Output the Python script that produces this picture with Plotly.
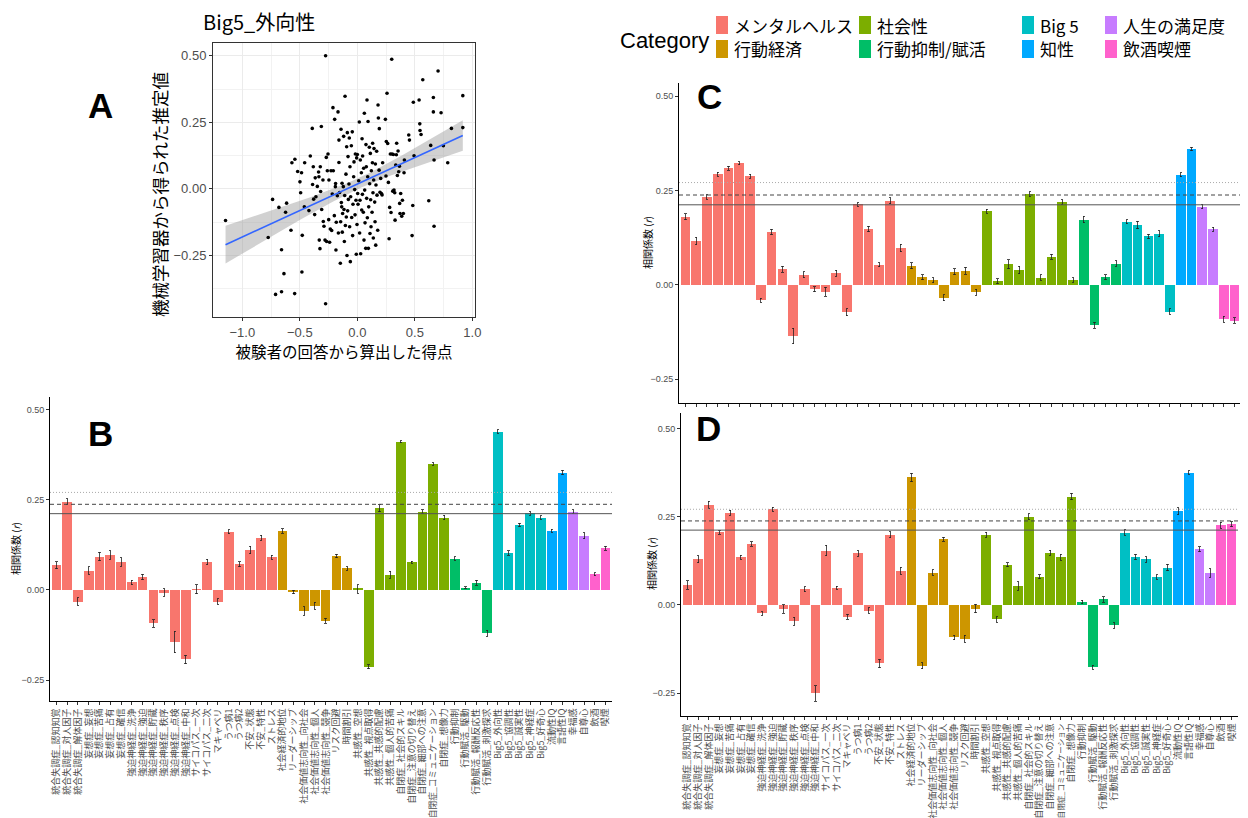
import numpy as np
import plotly.graph_objects as go

# ---------------- data ----------------
categories = [
    "統合失調症_認知知覚", "統合失調症_対人因子", "統合失調症_解体因子",
    "妄想症_妄想", "妄想症_苦痛", "妄想症_占有", "妄想症_確信",
    "強迫神経症_洗浄", "強迫神経症_強迫", "強迫神経症_貯蔵", "強迫神経症_秩序",
    "強迫神経症_点検", "強迫神経症_中和", "サイコパス_一次", "サイコパス_二次",
    "マキャベリ", "うつ病1", "うつ病2", "不安_状態", "不安_特性", "ストレス",
    "社会経済的地位", "リーダーシップ", "社会価値志向性_向社会", "社会価値志向性_個人",
    "社会価値志向性_競争", "リスク回避", "時間割引",
    "共感性_空想", "共感性_視点取得", "共感性_共感的配慮", "共感性_個人的苦痛",
    "自閉症_社会的スキル", "自閉症_注意の切り替え", "自閉症_細部への注意",
    "自閉症_コミュニケーション", "自閉症_想像力",
    "行動抑制", "行動賦活_駆動", "行動賦活_報酬反応性", "行動賦活_刺激探求",
    "Big5_外向性", "Big5_協調性", "Big5_誠実性", "Big5_神経症", "Big5_好奇心",
    "流動性IQ", "言語性IQ", "幸福感", "自尊心", "飲酒", "喫煙",
]
group_names = ["メンタルヘルス", "行動経済", "社会性", "行動抑制/賦活",
               "Big 5", "知性", "人生の満足度", "飲酒喫煙"]
group_counts = [21, 7, 9, 4, 5, 2, 2, 2]
group_colors = ["#F8766D", "#CD9600", "#7CAE00", "#00BE67",
                "#00BFC4", "#00A9FF", "#C77CFF", "#FF61CC"]

values_B = [0.069, 0.245, -0.032, 0.054, 0.093, 0.097, 0.078, 0.021, 0.036, -0.093,
            -0.007, -0.144, -0.193, 0.002, 0.078, -0.032, 0.162, 0.072, 0.111, 0.145,
            0.091, 0.164, -0.006, -0.058, -0.044, -0.086, 0.094, 0.060, 0.003, -0.213,
            0.227, 0.042, 0.412, 0.077, 0.218, 0.350, 0.201, 0.087, 0.006, 0.020,
            -0.120, 0.440, 0.103, 0.181, 0.213, 0.201, 0.165, 0.326, 0.218, 0.151,
            0.044, 0.116]
err_B = [0.010, 0.008, 0.010, 0.010, 0.012, 0.012, 0.012, 0.006, 0.008, 0.010,
         0.010, 0.030, 0.012, 0.012, 0.008, 0.007, 0.006, 0.007, 0.010, 0.007,
         0.006, 0.006, 0.005, 0.012, 0.010, 0.007, 0.005, 0.005, 0.012, 0.006,
         0.010, 0.010, 0.003, 0.003, 0.005, 0.004, 0.006, 0.005, 0.003, 0.007,
         0.008, 0.005, 0.006, 0.005, 0.005, 0.005, 0.004, 0.006, 0.005, 0.008,
         0.004, 0.006]

values_C = [0.180, 0.116, 0.233, 0.293, 0.309, 0.322, 0.288, -0.041, 0.140, 0.041,
            -0.136, 0.027, -0.012, -0.018, 0.031, -0.073, 0.213, 0.148, 0.053, 0.223,
            0.098, 0.050, 0.020, 0.012, -0.034, 0.035, 0.037, -0.020, 0.195, 0.009,
            0.054, 0.039, 0.240, 0.019, 0.074, 0.219, 0.012, 0.173, -0.107, 0.020,
            0.056, 0.167, 0.159, 0.128, 0.135, -0.071, 0.292, 0.360, 0.207, 0.147,
            -0.092, -0.095]
err_C = [0.008, 0.010, 0.006, 0.005, 0.005, 0.004, 0.005, 0.005, 0.007, 0.008,
         0.020, 0.008, 0.007, 0.012, 0.008, 0.009, 0.005, 0.007, 0.005, 0.008,
         0.010, 0.008, 0.007, 0.007, 0.008, 0.008, 0.009, 0.008, 0.005, 0.007,
         0.012, 0.010, 0.006, 0.007, 0.007, 0.007, 0.006, 0.009, 0.008, 0.007,
         0.007, 0.005, 0.010, 0.006, 0.008, 0.007, 0.005, 0.004, 0.006, 0.005,
         0.008, 0.007]

values_D = [0.056, 0.129, 0.284, 0.206, 0.261, 0.135, 0.173, -0.024, 0.271, -0.012,
            -0.046, 0.044, -0.250, 0.154, 0.049, -0.033, 0.146, -0.016, -0.165, 0.199,
            0.097, 0.361, -0.172, 0.092, 0.186, -0.092, -0.095, -0.010, 0.199, -0.041,
            0.114, 0.054, 0.250, 0.080, 0.148, 0.135, 0.307, 0.008, -0.176, 0.016,
            -0.058, 0.205, 0.136, 0.129, 0.079, 0.106, 0.266, 0.375, 0.158, 0.091,
            0.226, 0.229]
err_D = [0.012, 0.010, 0.010, 0.006, 0.007, 0.006, 0.006, 0.005, 0.006, 0.012,
         0.012, 0.007, 0.022, 0.015, 0.004, 0.007, 0.008, 0.008, 0.012, 0.008,
         0.010, 0.012, 0.008, 0.008, 0.006, 0.006, 0.010, 0.012, 0.007, 0.008,
         0.006, 0.012, 0.008, 0.006, 0.007, 0.008, 0.009, 0.005, 0.006, 0.008,
         0.008, 0.008, 0.008, 0.008, 0.006, 0.009, 0.010, 0.005, 0.007, 0.012,
         0.008, 0.007]

thresholds = [0.212, 0.238, 0.271]   # solid, dashed, dotted

scatter_x = [-1.146, -0.775, -0.737, -0.711, -0.682, -0.659, -0.638, -0.659, -0.624, -0.615,
             -0.577, -0.569, -0.543, -0.545, -0.519, -0.499, -0.493, -0.485, -0.482, -0.479,
             -0.458, -0.461, -0.421, -0.409, -0.392, -0.389, -0.383, -0.380, -0.371, -0.366,
             -0.360, -0.348, -0.337, -0.334, -0.331, -0.325, -0.322, -0.319, -0.313, -0.310,
             -0.299, -0.296, -0.290, -0.281, -0.276, -0.276, -0.270, -0.267, -0.261, -0.255,
             -0.249, -0.247, -0.241, -0.235, -0.229, -0.223, -0.218, -0.212, -0.209, -0.200,
             -0.197, -0.191, -0.189, -0.186, -0.183, -0.174, -0.168, -0.165, -0.160, -0.160,
             -0.154, -0.148, -0.145, -0.142, -0.139, -0.136, -0.133, -0.131, -0.128, -0.122,
             -0.119, -0.116, -0.113, -0.110, -0.107, -0.104, -0.099, -0.096, -0.093, -0.090,
             -0.087, -0.084, -0.081, -0.078, -0.073, -0.070, -0.067, -0.064, -0.061, -0.058,
             -0.052, -0.049, -0.044, -0.041, -0.038, -0.032, -0.029, -0.023, -0.020, -0.017,
             -0.012, -0.009, -0.006, -0.003, 0.000, 0.003, 0.006, 0.012, 0.017, 0.020,
             0.023, 0.026, 0.029, 0.035, 0.038, 0.041, 0.044, 0.046, 0.052, 0.055,
             0.058, 0.061, 0.064, 0.067, 0.073, 0.075, 0.078, 0.081, 0.084, 0.087,
             0.090, 0.093, 0.096, 0.099, 0.104, 0.107, 0.110, 0.113, 0.116, 0.119,
             0.122, 0.128, 0.131, 0.133, 0.136, 0.139, 0.142, 0.145, 0.151, 0.154,
             0.157, 0.160, 0.162, 0.168, 0.171, 0.177, 0.180, 0.183, 0.189, 0.191,
             0.197, 0.203, 0.209, 0.215, 0.220, 0.244, 0.249, 0.252, 0.258, 0.264,
             0.270, 0.276, 0.281, 0.287, 0.293, 0.299, 0.302, 0.308, 0.313, 0.319,
             0.325, 0.328, 0.334, 0.339, 0.342, 0.348, 0.354, 0.360, 0.366, 0.368,
             0.371, 0.377, 0.386, 0.392, 0.400, 0.406, 0.409, 0.447, 0.453, 0.476,
             0.482, 0.487, 0.493, 0.537, 0.543, 0.545, 0.554, 0.569, 0.621, 0.638,
             0.661, 0.661, 0.667, 0.667, 0.702, 0.728, 0.748, 0.786, 0.818, 0.917,
             0.917]
scatter_y = [-0.119, -0.183, -0.040, -0.397, -0.070, -0.387, -0.319, -0.229, -0.088, -0.054,
             -0.156, 0.098, 0.111, -0.394, 0.065, 0.026, -0.015, 0.060, -0.313, -0.175,
             0.098, -0.068, -0.082, 0.123, 0.227, 0.016, 0.083, -0.039, -0.097, 0.041,
             -0.030, 0.009, 0.063, 0.045, -0.193, -0.225, 0.083, -0.010, 0.234, -0.078,
             0.033, -0.123, -0.141, -0.193, 0.500, -0.432, 0.118, -0.198, 0.068, 0.131,
             -0.116, 0.033, -0.201, -0.151, 0.068, -0.157, -0.020, 0.305, 0.068, -0.101,
             0.261, 0.008, 0.020, -0.230, -0.126, -0.026, 0.289, -0.166, 0.099, 0.183,
             -0.014, -0.280, -0.124, 0.224, -0.052, -0.068, 0.021, -0.163, -0.093, 0.008,
             0.197, -0.078, -0.198, -0.025, 0.348, -0.138, 0.055, -0.106, 0.158, -0.251,
             0.211, -0.083, 0.121, -0.040, 0.018, 0.191, -0.143, 0.083, -0.274, -0.030,
             0.162, -0.108, 0.214, -0.176, -0.058, 0.045, 0.101, -0.003, -0.098, 0.131,
             -0.043, -0.246, 0.116, -0.134, 0.129, -0.018, -0.058, 0.030, 0.251, -0.166,
             -0.043, 0.108, -0.244, 0.060, -0.080, 0.188, -0.021, 0.123, -0.088, 0.077,
             -0.193, 0.284, -0.005, -0.128, -0.224, 0.166, 0.083, -0.036, 0.334, -0.109,
             0.045, 0.253, -0.224, -0.068, 0.156, 0.019, -0.168, 0.133, -0.041, -0.143,
             0.068, -0.088, 0.098, 0.171, -0.015, -0.185, 0.033, 0.151, -0.050, -0.124,
             0.093, -0.212, 0.014, 0.141, -0.024, -0.156, 0.315, 0.266, 0.070, 0.226,
             -0.013, 0.039, -0.018, -0.023, 0.098, 0.261, 0.048, 0.178, 0.359, 0.170,
             0.024, -0.188, -0.070, 0.131, -0.089, 0.487, 0.131, -0.009, 0.129, -0.005,
             -0.015, -0.118, 0.089, 0.128, 0.171, 0.050, 0.142, 0.064, 0.085, -0.055,
             -0.093, -0.018, -0.103, -0.043, -0.093, 0.060, 0.108, 0.202, 0.183, -0.176,
             -0.063, 0.325, 0.124, 0.334, 0.244, 0.219, 0.204, 0.410, -0.045, 0.163,
             0.343, 0.289, 0.108, -0.141, 0.443, 0.286, 0.162, 0.098, 0.227, 0.350,
             0.230]

# ---------------- layout geometry (page pixels -> paper) ----------------
# The HTML page body has a default 8px margin, so the figure is drawn 8px
# right/down of the window origin; size it to fit the 1248x818 window.
OFF = 8
W, H = 1248 - OFF, 818 - OFF
def px(x): return (x - OFF) / W
def py(y): return 1 - (y - OFF) / H

FONT = "Liberation Sans, Noto Sans CJK JP, sans-serif"
JFONT = "Noto Sans CJK JP, Liberation Sans, sans-serif"
GREY = "#4D4D4D"

def fitted_ticktext(labels, avail_px, base=9.0):
    """Shrink only the labels that would overflow the space under the axis."""
    out = []
    for lab in labels:
        em = sum(0.55 if ord(ch) < 128 else 1.0 for ch in lab)
        size = min(base, avail_px / em)
        if size < base:
            out.append(f'<span style="font-size:{size:.2f}px">{lab}</span>')
        else:
            out.append(lab)
    return out

fig = go.Figure()

# ---------------- Panel A: scatter + lm fit ----------------
sx = np.array(scatter_x)
sy = np.array(scatter_y)
n = len(sx)
b1, b0 = np.polyfit(sx, sy, 1)
resid = sy - (b0 + b1 * sx)
sigma = np.sqrt(np.sum(resid ** 2) / (n - 2))
xbar = sx.mean()
sxx = np.sum((sx - xbar) ** 2)
xg = np.linspace(sx.min(), sx.max(), 80)
yg = b0 + b1 * xg
se = sigma * np.sqrt(1 / n + (xg - xbar) ** 2 / sxx)
tcrit = 1.97
lo, hi = yg - tcrit * se, yg + tcrit * se

fig.add_trace(go.Scatter(x=np.concatenate([xg, xg[::-1]]),
                         y=np.concatenate([hi, lo[::-1]]),
                         fill="toself", fillcolor="rgba(153,153,153,0.45)",
                         line=dict(width=0), mode="lines", xaxis="x", yaxis="y",
                         showlegend=False, hoverinfo="skip"))
fig.add_trace(go.Scatter(x=sx, y=sy, mode="markers", xaxis="x", yaxis="y",
                         marker=dict(color="black", size=3.6), showlegend=False,
                         hoverinfo="skip"))
fig.add_trace(go.Scatter(x=xg, y=yg, mode="lines", line=dict(color="#3366FF", width=1.6),
                         xaxis="x", yaxis="y", showlegend=False, hoverinfo="skip"))

# ---------------- Panels B, C, D: bars ----------------
panels = [("x2", "y2", values_B, err_B),
          ("x3", "y3", values_C, err_C),
          ("x4", "y4", values_D, err_D)]

for xa, ya, vals, errs in panels:
    start = 0
    for gname, cnt, col in zip(group_names, group_counts, group_colors):
        sl = slice(start, start + cnt)
        start += cnt
        fig.add_trace(go.Bar(
            x=categories[sl], y=vals[sl], xaxis=xa, yaxis=ya,
            name=gname, marker=dict(color=col, line=dict(width=0)),
            width=0.9,
            error_y=dict(type="data", array=errs[sl], color="#222222",
                         thickness=0.8, width=1.2),
            legendgroup=gname, showlegend=False,
        ))

# ---------------- axes ----------------
axis_common_bar = dict(showline=True, linecolor="black", linewidth=1,
                       ticks="outside", ticklen=3, tickcolor="#333333",
                       showgrid=False, zeroline=False, automargin=False)

bar_geom = {
    "2": dict(x0=50, x1=612, y0=397, y1=701, yr=[-0.3083, 0.536], labels=True),
    "3": dict(x0=679, x1=1241, y0=83, y1=403, yr=[-0.3136, 0.535], labels=False),
    "4": dict(x0=681, x1=1238, y0=413, y1=716, yr=[-0.3143, 0.5436], labels=True),
}

layout_axes = {}
for k, g in bar_geom.items():
    avail = 818 - (g["y1"] + 7)
    layout_axes[f"xaxis{k}"] = dict(
        axis_common_bar, domain=[px(g["x0"]), px(g["x1"])], anchor=f"y{k}",
        type="category", categoryorder="array", categoryarray=categories,
        tickmode="array", tickvals=categories,
        ticktext=fitted_ticktext(categories, avail),
        range=[-0.6, len(categories) - 0.4], tickangle=-90,
        showticklabels=g["labels"], tickfont=dict(family=JFONT, size=9, color=GREY))
    layout_axes[f"yaxis{k}"] = dict(
        axis_common_bar, domain=[py(g["y1"]), py(g["y0"])], anchor=f"x{k}",
        range=g["yr"], tick0=0, dtick=0.25, tickformat=".2f",
        tickfont=dict(family=FONT, size=9, color=GREY))

layout_axes["xaxis"] = dict(
    domain=[px(213), px(475)], anchor="y", range=[-1.255, 1.023],
    showline=True, mirror=True, linecolor="#333333", linewidth=1,
    showgrid=True, gridcolor="#EBEBEB", gridwidth=1.1, zeroline=False,
    tick0=0, dtick=0.5, tickformat=".1f", ticks="outside", ticklen=3, tickcolor="#333333",
    minor=dict(showgrid=True, gridcolor="#F2F2F2", gridwidth=0.6, dtick=0.25, tick0=0),
    tickfont=dict(family=FONT, size=13, color=GREY), automargin=False,
    title=dict(text="被験者の回答から算出した得点", font=dict(family=JFONT, size=15.5, color="black"),
               standoff=4))
layout_axes["yaxis"] = dict(
    domain=[py(317), py(43)], anchor="x", range=[-0.482, 0.548],
    showline=True, mirror=True, linecolor="#333333", linewidth=1,
    showgrid=True, gridcolor="#EBEBEB", gridwidth=1.1, zeroline=False,
    tick0=0, dtick=0.25, tickformat=".2f", ticks="outside", ticklen=3, tickcolor="#333333",
    minor=dict(showgrid=True, gridcolor="#F2F2F2", gridwidth=0.6, dtick=0.125, tick0=0),
    tickfont=dict(family=FONT, size=13, color=GREY), automargin=False)

# ---------------- threshold lines ----------------
shapes = []
line_styles = [dict(color="#555555", width=1, dash="solid"),
               dict(color="#444444", width=1, dash="4px,3px"),
               dict(color="#AAAAAA", width=1, dash="1px,2px")]
for k in ["2", "3", "4"]:
    for thr, st in zip(thresholds, line_styles):
        shapes.append(dict(type="line", xref=f"x{k} domain", x0=0, x1=1,
                           yref=f"y{k}", y0=thr, y1=thr, line=st, layer="above"))

# ---------------- annotations ----------------
ann = []
for letter, (x, y) in {"A": (100, 105), "B": (100, 433), "C": (709, 97), "D": (708, 429)}.items():
    ann.append(dict(text=letter, x=px(x), y=py(y), xref="paper", yref="paper",
                    showarrow=False, xanchor="center", yanchor="middle",
                    font=dict(family="Liberation Sans", size=35, color="black", weight="bold")))
for x, y in [(15, 549), (648, 243), (651, 564)]:
    ann.append(dict(text="相関係数 (<i>r</i>)", x=px(x), y=py(y), xref="paper", yref="paper",
                    showarrow=False, textangle=-90, xanchor="center", yanchor="middle",
                    font=dict(family=JFONT, size=10, color="black")))
ann.append(dict(text="Big5_外向性", x=px(201), y=py(22), xref="paper", yref="paper",
                showarrow=False, xanchor="left", yanchor="middle",
                font=dict(family=JFONT, size=20, color="black")))
ann.append(dict(text="機械学習器から得られた推定値", x=px(160), y=py(195), xref="paper", yref="paper",
                showarrow=False, textangle=-90, xanchor="center", yanchor="middle",
                font=dict(family=JFONT, size=17.5, color="black")))
ann.append(dict(text="Category", x=px(618), y=py(40), xref="paper", yref="paper",
                showarrow=False, xanchor="left", yanchor="middle",
                font=dict(family=FONT, size=22, color="black")))

# manual legend (4 columns x 2 rows, column-major like ggplot)
col_swatch_x = [716, 859, 1022, 1105]
row_y = [25, 49]
for i, (gname, col) in enumerate(zip(group_names, group_colors)):
    c, r = divmod(i, 2)
    x0 = col_swatch_x[c]
    yc = row_y[r]
    shapes.append(dict(type="rect", xref="paper", yref="paper",
                       x0=px(x0), x1=px(x0 + 12), y0=py(yc - 9), y1=py(yc + 9),
                       fillcolor=col, line=dict(width=0), layer="above"))
    ann.append(dict(text=gname, x=px(x0 + 16), y=py(yc), xref="paper", yref="paper",
                    showarrow=False, xanchor="left", yanchor="middle",
                    font=dict(family=JFONT, size=17, color="black")))

fig.update_layout(
    width=W, height=H, template="none",
    margin=dict(l=0, r=0, t=0, b=0),
    paper_bgcolor="white", plot_bgcolor="white",
    barmode="overlay", bargap=0,
    showlegend=False,
    shapes=shapes, annotations=ann,
    font=dict(family=FONT),
    **layout_axes,
)

fig.write_html("out.html")
